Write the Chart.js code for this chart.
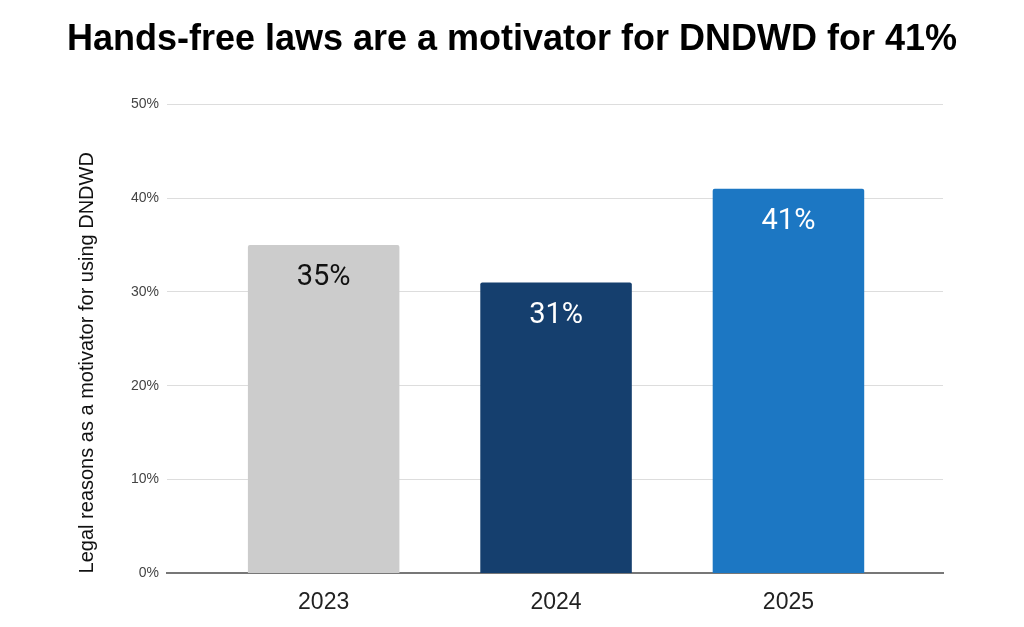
<!DOCTYPE html>
<html>
<head>
<meta charset="utf-8">
<script src="https://cdn.jsdelivr.net/npm/chart.js@4.4.1/dist/chart.umd.min.js"></script>
<style>
  html, body { margin: 0; padding: 0; background: #fff; }
  #wrap { width: 1024px; height: 627px; }
</style>
</head>
<body>
<div id="wrap"><canvas id="myBarChart"></canvas></div>
<script>
// chart data
var years = ['2023', '2024', '2025'];
var legalShare = [35, 31, 41];
var barColors = ['#cccccc', '#153f6e', '#1c77c3'];
var labelColors = ['#111111', '#ffffff', '#ffffff'];
var yTicks = [0, 10, 20, 30, 40, 50];

// bars sit on a linear x scale so the grid can run wider than the bars
var points = legalShare.map(function (v, i) { return { x: i, y: v }; });

// value labels drawn inside the top of each bar
var barLabels = {
    id: 'barLabels',
    afterDatasetsDraw: function (chart) {
        var ctx = chart.ctx;
        var meta = chart.getDatasetMeta(0);
        ctx.save();
        ctx.font = '29px Roboto';
        ctx.textAlign = 'center';
        ctx.textBaseline = 'middle';
        meta.data.forEach(function (bar, i) {
            ctx.fillStyle = labelColors[i];
            ctx.fillText(legalShare[i] + '%', bar.x, bar.y + 33);
        });
        ctx.restore();
    }
};

var ctx = document.getElementById('myBarChart').getContext('2d');
var chart = new Chart(ctx, {
    type: 'bar',
    data: {
        datasets: [{
            data: points,
            backgroundColor: barColors,
            borderRadius: { topLeft: 2, topRight: 2 },
            borderSkipped: 'bottom',
            barPercentage: 0.652,
            categoryPercentage: 1
        }]
    },
    options: {
        responsive: true,
        maintainAspectRatio: false,
        animation: false,
        // no side padding here, so the title gets the full width
        layout: { padding: { left: 0, right: 0, top: 0, bottom: 4 } },
        plugins: {
            legend: { display: false },
            tooltip: { enabled: false },
            title: {
                display: true,
                text: 'Hands-free laws are a motivator for DNDWD for 41%',
                color: '#000',
                font: { family: 'Liberation Sans', size: 36, weight: 'bold' },
                padding: { top: 18, bottom: 43 }
            }
        },
        scales: {
            x: {
                type: 'linear',
                min: -0.674,
                max: 2.665,
                offset: false,
                afterBuildTicks: function (axis) {
                    axis.ticks = years.map(function (y, i) { return { value: i }; });
                },
                ticks: {
                    color: '#222',
                    font: { family: 'Liberation Sans', size: 23 },
                    padding: 7,
                    callback: function (v) { return years[v]; }
                },
                grid: { display: false },
                border: { color: '#777', width: 2 }
            },
            y: {
                min: 0,
                max: 50,
                afterBuildTicks: function (axis) {
                    axis.ticks = yTicks.map(function (v) { return { value: v }; });
                },
                ticks: {
                    color: '#444',
                    font: { family: 'Liberation Sans', size: 14 },
                    padding: 8,
                    callback: function (v) { return v + '%'; }
                },
                grid: { color: '#dddddd', lineWidth: 1, drawTicks: false },
                border: { display: false },
                title: {
                    display: true,
                    text: 'Legal reasons as a motivator for using DNDWD',
                    align: 'start',
                    color: '#111',
                    font: { family: 'Liberation Sans', size: 20 },
                    padding: { top: 75, bottom: 24 }
                }
            },
            // empty right axis, only keeps the right margin
            yRight: {
                position: 'right',
                grid: { display: false },
                border: { display: false },
                ticks: { display: false },
                afterFit: function (axis) { axis.width = 81; }
            }
        }
    },
    plugins: [barLabels]
});
</script>
</body>
</html>
